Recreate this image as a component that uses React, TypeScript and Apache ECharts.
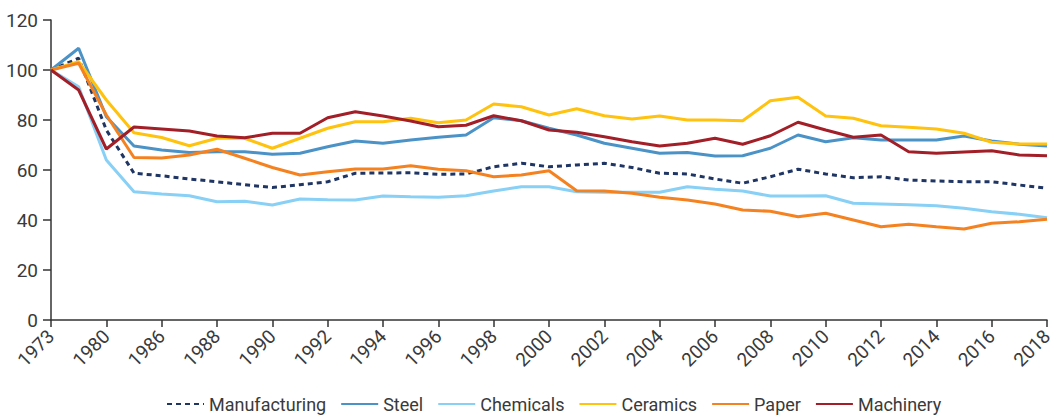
import React, { useEffect, useRef } from "react";
import * as echarts from "echarts";

const years = ["1973", "1979", "1980", "1985", "1986", "1987", "1988", "1989", "1990", "1991", "1992", "1993", "1994", "1995", "1996", "1997", "1998", "1999", "2000", "2001", "2002", "2003", "2004", "2005", "2006", "2007", "2008", "2009", "2010", "2011", "2012", "2013", "2014", "2015", "2016", "2017", "2018"];

const manufacturing = [100, 104.7, 76, 58.7, 57.7, 56.4, 55.3, 54.1, 53, 54.1, 55.3, 58.7, 58.8, 58.9, 58.3, 58.4, 61.3, 62.7, 61.3, 62, 62.7, 61, 58.7, 58.4, 56.4, 54.7, 57.3, 60.3, 58.4, 56.9, 57.3, 56, 55.6, 55.3, 55.3, 54, 52.7];
const steel = [100, 108.7, 81.3, 69.6, 68, 67, 67.3, 67.3, 66.3, 66.7, 69.3, 71.6, 70.7, 72, 73.1, 74, 80.9, 79.7, 76.7, 74, 70.7, 68.7, 66.7, 67, 65.6, 65.7, 68.7, 74, 71.3, 72.9, 72, 72, 72, 73.6, 71.6, 70.3, 69.6];
const chemicals = [100, 93.3, 64, 51.3, 50.4, 49.7, 47.3, 47.5, 46, 48.4, 48.1, 48, 49.6, 49.3, 49.1, 49.7, 51.6, 53.3, 53.3, 51.3, 51.1, 51.1, 51.1, 53.3, 52.3, 51.6, 49.6, 49.6, 49.7, 46.7, 46.4, 46.1, 45.7, 44.7, 43.3, 42.3, 40.9];
const ceramics = [100, 103.3, 88, 74.9, 73, 69.7, 72.7, 72.7, 68.7, 72.7, 76.7, 79.3, 79.3, 80.7, 78.9, 80, 86.4, 85.3, 82, 84.5, 81.7, 80.4, 81.6, 80, 80, 79.7, 87.7, 89.1, 81.6, 80.7, 77.7, 77.1, 76.4, 74.7, 71.1, 70.4, 70.4];
const paper = [100, 102.7, 82, 65, 64.8, 66, 68.3, 64.7, 61, 58, 59.3, 60.4, 60.4, 61.7, 60.3, 59.7, 57.3, 58, 59.7, 51.7, 51.6, 50.7, 49.1, 48, 46.4, 44, 43.5, 41.3, 42.7, 40, 37.3, 38.3, 37.3, 36.4, 38.7, 39.3, 40.3];
const machinery = [100, 92, 68.4, 77.2, 76.4, 75.6, 73.6, 72.9, 74.7, 74.7, 80.9, 83.3, 81.6, 79.6, 77.3, 77.9, 81.7, 79.7, 76, 75.1, 73.3, 71.3, 69.6, 70.7, 72.7, 70.3, 73.7, 79.1, 76, 73.1, 74, 67.3, 66.7, 67.2, 67.7, 66, 65.7];

const seriesDefs = [
  { name: "Manufacturing", data: manufacturing, color: "#1f3564", dashed: true },
  { name: "Steel", data: steel, color: "#4b93c7", dashed: false },
  { name: "Chemicals", data: chemicals, color: "#88d0f5", dashed: false },
  { name: "Ceramics", data: ceramics, color: "#ffc20e", dashed: false },
  { name: "Paper", data: paper, color: "#f58220", dashed: false },
  { name: "Machinery", data: machinery, color: "#a21f28", dashed: false },
];

const FONT = "Roboto, sans-serif";
const TEXT = "#3a3a3a";

export default function App() {
  const ref = useRef<HTMLDivElement>(null);
  useEffect(() => {
    document.body.style.margin = "0";
    if (!ref.current) return;
    const chart = echarts.init(ref.current, undefined, { renderer: "svg" });
    chart.setOption({
      animation: false,
      backgroundColor: "#ffffff",
      grid: { left: 51, right: 16, top: 20, bottom: 96, containLabel: false },
      legend: {
        top: 390,
        left: 161,
        itemWidth: 37,
        itemHeight: 10,
        itemGap: 14,
        itemStyle: { opacity: 0 },
        textStyle: { fontFamily: FONT, fontSize: 18, color: TEXT },
        data: seriesDefs.map((s) => s.name),
      },
      xAxis: {
        type: "category",
        data: years,
        boundaryGap: false,
        axisLine: { lineStyle: { color: "#333", width: 1.5 } },
        axisTick: { show: true, interval: 1, length: 7, lineStyle: { color: "#333", width: 1.5 } },
        axisLabel: { interval: 1, rotate: 45, margin: 13, fontFamily: FONT, fontSize: 19, color: TEXT },
        splitLine: { show: false },
      },
      yAxis: {
        type: "value",
        min: 0,
        max: 120,
        interval: 20,
        axisLine: { show: true, lineStyle: { color: "#333", width: 1.5 } },
        axisTick: { show: true, length: 8, lineStyle: { color: "#333", width: 1.5 } },
        axisLabel: { margin: 13, fontFamily: FONT, fontSize: 19, color: TEXT },
        splitLine: { show: false },
      },
      series: seriesDefs.map((s) => ({
        name: s.name,
        type: "line",
        data: s.data,
        symbol: "none",
        smooth: false,
        color: s.color,
        lineStyle: { color: s.color, width: 3, type: s.dashed ? [5, 4] : "solid" },
      })),
    });
    return () => chart.dispose();
  }, []);
  return <div ref={ref} style={{ width: 1063, height: 416 }} />;
}
